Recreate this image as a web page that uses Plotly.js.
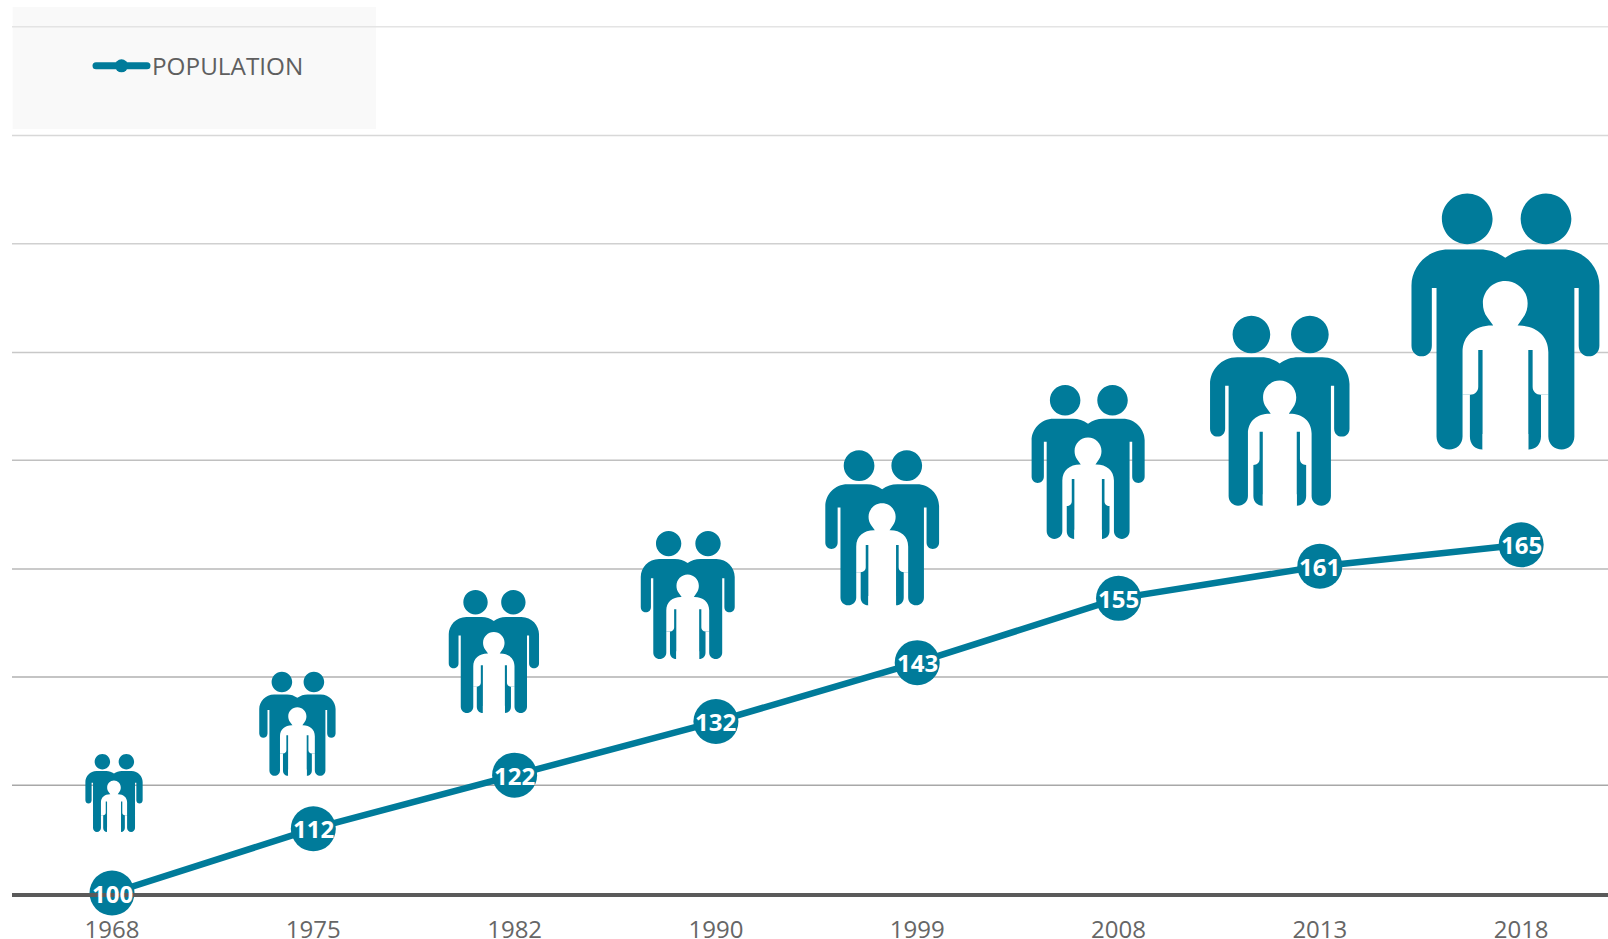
<!DOCTYPE html>
<html>
<head>
<meta charset="utf-8">
<script src="https://cdn.plot.ly/plotly-3.0.1.min.js"></script>
<style>
html,body{margin:0;padding:0;background:#fff;overflow:hidden}
#chart{width:1608px;height:939px}
.legendlines path{stroke-linecap:round;stroke-width:7px !important}
</style>
</head>
<body>
<div id="chart"></div>
<script>
const years = ['1968','1975','1982','1990','1999','2008','2013','2018'];
const population = [100,112,122,132,143,155,161,165];

const gridValues = [120.1,140.3,160.5,180.8,200.9,221.2,241.4,261.7];
const gridColors = ['#a8a8a8','#b0b0b0','#b8b8b8','#c0c0c0','#c8c8c8','#d0d0d0','#d8d8d8','#e4e4e4'];

// pictogram placement, in x-index and y-value units
const iconX = [0.010,0.921,1.897,2.860,3.826,4.849,5.801,6.922];
const iconBase = [111.4,121.9,133.6,143.7,153.7,166.1,172.3,182.8];
const iconHeight = [78,104,123,128,155,154,190,256];

const TEAL = '#007b9a';
const adultPath = 'M376 262 C352 245 330 237 300 237 H205 C140 237 95 290 95 345 V525 C95 545 110 557 125 557 C142 557 156 545 156 525 V352 H170 V797 C170 820 188 836 208 836 C230 836 248 820 248 797 V672 H270 V797 C270 820 285 836 308 836 V790 H445 V836 C468 836 483 820 483 797 V672 H505 V797 C505 820 523 836 545 836 C565 836 583 820 583 797 V352 H596 V525 C596 545 610 557 627 557 C643 557 658 545 658 525 V345 C658 290 613 237 548 237 H452 C422 237 400 245 376 262 Z '
 + 'M186 145 C186 103 220 69 262 69 C304 69 338 103 338 145 C338 187 304 221 262 221 C220 221 186 187 186 145 Z '
 + 'M422 145 C422 103 456 69 498 69 C540 69 574 103 574 145 C574 187 540 221 498 221 C456 221 422 187 422 145 Z';
const childPath = 'M340 465 H336 C285 465 248 495 248 545 V672 H270 C285 672 295 662 295 648 V538 H308 V836 H445 V538 H458 V648 C458 662 468 672 483 672 H505 V545 C505 495 468 465 417 465 H413 L430 440 C439 428 443 414 443 398 C443 361 413 331 376 331 C339 331 309 361 309 398 C309 414 313 428 322 440 Z';

function scalePath(p, s){
  const tok = p.trim().split(/\s+|(?=[A-Z])|(?<=[A-Z])/).filter(Boolean);
  let out = [], cmd = '', n = 0;
  tok.forEach(function(t){
    if(/^[A-Z]$/.test(t)){cmd = t; n = 0; out.push(t); return;}
    const v = Number(t);
    const isX = cmd === 'H' ? true : cmd === 'V' ? false : n % 2 === 0;
    out.push(((isX ? v - 376.5 : 836 - v) * s).toFixed(2));
    n++;
  });
  return out.join(' ');
}

const shapes = [];
shapes.push({type:'rect',xref:'paper',yref:'paper',layer:'below',
  x0:(12.7-12)/1596,x1:(376-12)/1596,y0:1-129/893,y1:1-7/893,
  fillcolor:'#f9f9f9',line:{width:0}});
gridValues.forEach(function(v,i){
  shapes.push({type:'line',xref:'paper',yref:'y',layer:'below',x0:0,x1:1,y0:v,y1:v,
    line:{color:gridColors[i],width:1.5}});
});
iconX.forEach(function(x,i){
  const s = iconHeight[i]/767;
  [[adultPath,TEAL],[childPath,'#ffffff']].forEach(function(e){
    shapes.push({type:'path',layer:'above',xref:'x',yref:'y',
      xsizemode:'pixel',ysizemode:'pixel',xanchor:x,yanchor:iconBase[i],
      path:scalePath(e[0],s),fillcolor:e[1],line:{width:0}});
  });
});

const valueLabels = population.map(function(v,i){
  return {x:i,y:v,xref:'x',yref:'y',text:String(v),showarrow:false,
    xanchor:'center',yanchor:'middle',
    font:{family:'"Open Sans",sans-serif',size:24,color:'#ffffff',weight:700}};
});

const traces = [
  {x:years,y:population,type:'scatter',mode:'lines+markers',name:'POPULATION',
   line:{color:TEAL,width:6.5},marker:{color:TEAL,size:13},cliponaxis:false,hoverinfo:'skip'},
  {x:years,y:population,type:'scatter',mode:'markers',showlegend:false,
   marker:{color:TEAL,size:45},cliponaxis:false,hoverinfo:'skip'}
];

const layout = {
  width:1608,height:939,
  margin:{l:12,r:0,t:0,b:46,pad:0},
  paper_bgcolor:'#ffffff',plot_bgcolor:'rgba(0,0,0,0)',
  font:{family:'"Open Sans",sans-serif',color:'#5f5f5f'},
  xaxis:{type:'category',categoryorder:'array',categoryarray:years,
    range:[-0.4968,7.4315],autorange:false,
    showgrid:false,zeroline:false,showline:true,linecolor:'#5a5a5a',linewidth:4,
    ticks:'',ticklabelstandoff:12,tickfont:{family:'"Open Sans",sans-serif',size:24,color:'#666666'}},
  yaxis:{range:[100,266.7],autorange:false,showgrid:false,zeroline:false,showline:false,
    showticklabels:false,ticks:''},
  legend:{x:79/1596,xanchor:'left',y:1-66/893,yanchor:'middle',orientation:'v',
    itemwidth:51,bgcolor:'rgba(0,0,0,0)',borderwidth:0,
    font:{family:'"Open Sans",sans-serif',size:24.3,color:'#5f5f5f'}},
  shapes:shapes,
  annotations:valueLabels,
  hovermode:false
};
Plotly.newPlot('chart',traces,layout,{displayModeBar:false,staticPlot:true});
</script>
</body>
</html>
